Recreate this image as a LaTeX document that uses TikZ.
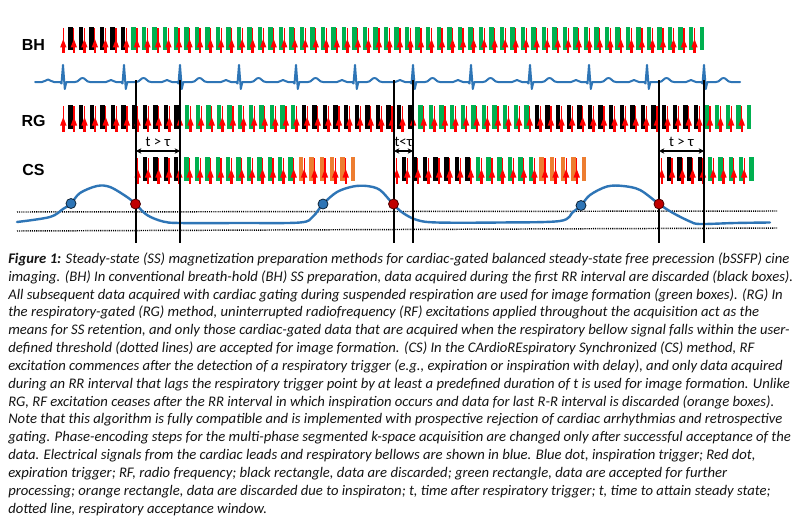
\documentclass[tikz,border=0pt]{standalone}
\usepackage{fontspec}
\setmainfont{Carlito}
\newfontfamily\lblfont{Liberation Sans}
\usetikzlibrary{arrows.meta}
\definecolor{ecgblue}{RGB}{46,117,182}
\definecolor{dgreen}{RGB}{0,176,80}
\definecolor{dorange}{RGB}{237,125,49}
\definecolor{rfred}{RGB}{255,0,0}
\definecolor{dotred}{RGB}{192,0,0}
\definecolor{capcol}{RGB}{20,20,20}
\newcommand\rfmark[2]{%
  \draw[rfred, line width=0.9pt] ({#1},{#2+1}) -- ({#1},{#2+26.5});
  \draw[rfred, line width=1.8pt] ({#1},{#2+18}) -- ({#1},{#2+26.5});
  \fill[rfred] ({#1-3.2},{#2+20.5}) -- ({#1+3.2},{#2+20.5}) -- ({#1},{#2+12}) -- cycle;}
\newcommand\trainunit[3]{%
  \fill[#3] (#1,#2) rectangle ++(4.5,23.5);
  \rfmark{#1-5}{#2}}
\tikzset{
  ecgline/.style={draw=ecgblue, line width=1.5pt, line join=round, line cap=round},
  respline/.style={draw=ecgblue, line width=1.8pt, line cap=round},
  vline/.style={draw=black, line width=1.1pt},
  thresh/.style={draw=black, line width=1.1pt, dash pattern=on 0.8pt off 0.8pt},
  rowlbl/.style={font=\lblfont\bfseries\fontsize{12}{14}\selectfont, inner sep=0},
  tlbl/.style={font=\fontsize{11}{13}\selectfont, inner sep=0},
  capline/.style={anchor=base west, inner sep=0, text=capcol, font=\fontsize{11}{13}\selectfont\itshape},
  bluedot/.style={circle, fill=ecgblue, draw=black!70!ecgblue, line width=0.6pt, inner sep=0, minimum size=7.5pt},
  reddot/.style={circle, fill=dotred, draw=black!60!dotred, line width=0.6pt, inner sep=0, minimum size=7.5pt},
  darrow/.style={<->, >={Stealth[length=4pt,width=4pt]}, line width=0.8pt}
}
\begin{document}
\begin{tikzpicture}[x=0.75pt,y=-0.75pt]
\useasboundingbox (0,0) rectangle (809,528);
\fill[white] (0,0) rectangle (809,528);

% row labels
\node[rowlbl] (bh) at (33.5,45) {BH};
\node[rowlbl] (rg) at (33.5,120.5) {RG};
\node[rowlbl] (cs) at (33.5,169.5) {CS};

% BH train
\foreach \k in {0,...,60}{
  \pgfmathsetmacro\xl{68.3+10.52*\k}
  \ifnum\k<6 \def\bc{black}\else\def\bc{dgreen}\fi
  \trainunit{\xl}{27}{\bc}
}
% RG train
\foreach \k in {0,...,64}{
  \pgfmathsetmacro\xl{68.3+10.6*\k}
  \pgfmathtruncatemacro\isblack{(\k<11)||((\k>21)&&(\k<33))||((\k>43)&&(\k<60))}
  \ifnum\isblack=1 \def\bc{black}\else\def\bc{dgreen}\fi
  \trainunit{\xl}{105}{\bc}
}
% CS segment 1
\foreach \k in {0,...,20}{
  \pgfmathsetmacro\xl{142.7+10.4*\k}
  \ifnum\k<4 \def\bc{black}\else\ifnum\k<15 \def\bc{dgreen}\else\def\bc{dorange}\fi\fi
  \trainunit{\xl}{157}{\bc}
}
% CS segment 2
\foreach \k in {0,...,17}{
  \pgfmathsetmacro\xl{401.7+10.59*\k}
  \ifnum\k<7 \def\bc{black}\else\ifnum\k<13 \def\bc{dgreen}\else\def\bc{dorange}\fi\fi
  \trainunit{\xl}{157}{\bc}
}
% CS segment 3
\foreach \k in {0,...,8}{
  \pgfmathsetmacro\xl{666.7+10.3*\k}
  \ifnum\k<4 \def\bc{black}\else\def\bc{dgreen}\fi
  \trainunit{\xl}{157}{\bc}
}

% ECG
\draw[ecgline] (35,82) -- (42,82) .. controls (45,82) and (46,79.5) .. (48,79.5) .. controls (50,79.5) and (51,82) .. (54,82) -- (60,82)
  \foreach \r/\n in {63/124,124/180,180/239,239/296,296/355,355/413,413/471,471/530,530/589,589/647,647/704}{
    -- (\r-1.5,83.5) -- (\r,65) -- (\r+1.8,89) -- (\r+3.3,82) -- (\r+12,82)
    .. controls (\r+16,82) and (\r+16.5,78) .. (\r+19.5,78) .. controls (\r+22.5,78) and (\r+23,82) .. (\r+27,82)
    -- (\n-18,82) .. controls (\n-15,82) and (\n-15.5,80) .. (\n-13,80) .. controls (\n-10.5,80) and (\n-11,82) .. (\n-8,82) -- (\n-3,82)
  }
  -- (702.5,83.5) -- (704,65) -- (705.8,89) -- (707.3,82) -- (716,82)
  .. controls (720,82) and (720.5,78) .. (723.5,78) .. controls (726.5,78) and (727,82) .. (731,82) -- (740,82);

% threshold lines
\coordinate (th1l) at (17,212); \coordinate (th1r) at (777,211);
\coordinate (th2l) at (17,231); \coordinate (th2r) at (777,228);
\draw[thresh] (th1l) -- (th1r);
\draw[thresh] (th2l) -- (th2r);

% respiratory curve
\draw[respline] plot[smooth, tension=0.55] coordinates {
 (17,222) (50,217) (63,209) (71,203.5) (80,193) (97,186) (110,187) (127,197) (135.5,204) (147,215) (163,221.5) (180,223)
 (240,223) (300,222.5) (313,216.5) (323,204) (337,192) (353,186.5) (367,186) (380,190) (393,204) (403,213) (417,220) (437,222.5)
 (500,222.5) (560,221) (573,212) (581,205.5) (590,195) (607,186.5) (623,186) (640,190) (659,204) (673,213) (690,221.5) (700,224) (735,223) (770,222.5)};

% vertical trigger lines
\foreach \i/\xx in {1/136,2/180,3/394,4/413,5/659,6/704}{
  \coordinate (vt\i) at (\xx,80);
  \coordinate (vb\i) at (\xx,243);
  \draw[vline] (vt\i) -- (vb\i);
}

% dots
\node[bluedot] (bd1) at (71,203.5) {};
\node[reddot] (rd1) at (135.5,204) {};
\node[bluedot] (bd2) at (323,204) {};
\node[reddot] (rd2) at (393.5,204) {};
\node[bluedot] (bd3) at (581,205.5) {};
\node[reddot] (rd3) at (659,204) {};

% t vs tau arrows
\coordinate (a1l) at (136,151); \coordinate (a1r) at (180,151);
\coordinate (a2l) at (394,151); \coordinate (a2r) at (413,151);
\coordinate (a3l) at (659,151); \coordinate (a3r) at (704,151);
\draw[darrow] (a1l) -- (a1r);
\draw[darrow] (a2l) -- (a2r);
\draw[darrow] (a3l) -- (a3r);
\node[tlbl] (t1) at (158,142) {t > τ};
\node[tlbl] (t2) at (403.5,141.5) {t<τ};
\node[tlbl] (t3) at (681.5,142) {t > τ};

% caption
\node[capline] (c1) at (8,263.3) {\textbf{Figure 1:} Steady-state (SS) magnetization preparation methods for cardiac-gated balanced steady-state free precession (bSSFP) cine};
\node[capline] (c2) at (8,281.15) {imaging. (BH) In conventional breath-hold (BH) SS preparation, data acquired during the first RR interval are discarded (black boxes).};
\node[capline] (c3) at (8,299.0) {All subsequent data acquired with cardiac gating during suspended respiration are used for image formation (green boxes). (RG) In};
\node[capline] (c4) at (8,316.85) {the respiratory-gated (RG) method, uninterrupted radiofrequency (RF) excitations applied throughout the acquisition act as the};
\node[capline] (c5) at (8,334.7) {means for SS retention, and only those cardiac-gated data that are acquired when the respiratory bellow signal falls within the user-};
\node[capline] (c6) at (8,352.55) {defined threshold (dotted lines) are accepted for image formation. (CS) In the CArdioREspiratory Synchronized (CS) method, RF};
\node[capline] (c7) at (8,370.4) {excitation commences after the detection of a respiratory trigger (e.g., expiration or inspiration with delay), and only data acquired};
\node[capline] (c8) at (8,388.25) {during an RR interval that lags the respiratory trigger point by at least a predefined duration of t is used for image formation. Unlike};
\node[capline] (c9) at (8,406.1) {RG, RF excitation ceases after the RR interval in which inspiration occurs and data for last R-R interval is discarded (orange boxes).};
\node[capline] (c10) at (8,423.95) {Note that this algorithm is fully compatible and is implemented with prospective rejection of cardiac arrhythmias and retrospective};
\node[capline] (c11) at (8,441.8) {gating. Phase-encoding steps for the multi-phase segmented k-space acquisition are changed only after successful acceptance of the};
\node[capline] (c12) at (8,459.65) {data. Electrical signals from the cardiac leads and respiratory bellows are shown in blue. Blue dot, inspiration trigger; Red dot,};
\node[capline] (c13) at (8,477.5) {expiration trigger; RF, radio frequency; black rectangle, data are discarded; green rectangle, data are accepted for further};
\node[capline] (c14) at (8,495.35) {processing; orange rectangle, data are discarded due to inspiraton; t, time after respiratory trigger; t, time to attain steady state;};
\node[capline] (c15) at (8,513.2) {dotted line, respiratory acceptance window.};
\end{tikzpicture}
\end{document}
